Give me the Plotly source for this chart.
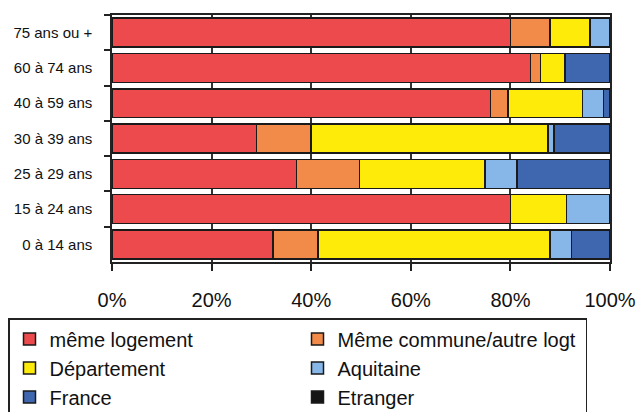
import plotly.graph_objects as go

# Age groups, listed top to bottom
age_groups = ["75 ans ou +", "60 à 74 ans", "40 à 59 ans", "30 à 39 ans",
              "25 à 29 ans", "15 à 24 ans", "0 à 14 ans"]

# Share (%) of each previous place of residence, per age group
meme_logement = [80.0, 84.0, 76.0, 29.0, 37.0, 80.0, 32.3]
meme_commune = [8.0, 2.0, 3.5, 11.0, 12.7, 0.0, 9.1]
departement = [8.0, 5.0, 15.0, 47.5, 25.2, 11.3, 46.6]
aquitaine = [4.0, 0.0, 4.2, 1.3, 6.4, 8.7, 4.3]
france = [0.0, 9.0, 1.3, 11.2, 18.7, 0.0, 7.7]
etranger = [0.0, 0.0, 0.0, 0.0, 0.0, 0.0, 0.0]

x_ticks = [0, 20, 40, 60, 80, 100]
x_tick_labels = ["0%", "20%", "40%", "60%", "80%", "100%"]

series = [
    ("même logement", meme_logement, "#EC4A4C"),
    ("Même commune/autre logt", meme_commune, "#F28B4A"),
    ("Département", departement, "#FFEB0A"),
    ("Aquitaine", aquitaine, "#86B7E8"),
    ("France", france, "#3F67B0"),
    ("Etranger", etranger, "#151515"),
]

fig = go.Figure()
for name, values, color in series:
    fig.add_trace(go.Bar(
        y=age_groups, x=values, name=name, orientation="h",
        marker=dict(color=color, line=dict(color="#1a1a1a", width=1.5)),
    ))

font_family = "Arial, Liberation Sans, sans-serif"

# plot area spans 112..610 px horizontally and 15..262 px vertically
plot_w = 637 - 112 - 27
plot_h = 412 - 15 - 150

fig.update_layout(
    width=637, height=412,
    barmode="stack", bargap=0.18,
    margin=dict(l=112, r=27, t=15, b=150, autoexpand=False),
    paper_bgcolor="white", plot_bgcolor="white",
    font=dict(family=font_family, color="#111111"),
    showlegend=True,
    legend=dict(
        orientation="h", traceorder="normal",
        x=(8 - 112) / plot_w, y=-(318 - 262) / plot_h,
        xanchor="left", yanchor="top",
        entrywidth=243,
        font=dict(size=20, family=font_family, color="#111111"),
        bordercolor="#222222", borderwidth=1.5,
        bgcolor="white",
    ),
    xaxis=dict(
        range=[0, 100], tickvals=x_ticks, ticktext=x_tick_labels,
        ticks="outside", ticklen=7, tickwidth=1.5, tickcolor="#222",
        ticklabelstandoff=12,
        tickfont=dict(size=20, family=font_family, color="#111"),
        showgrid=True, gridcolor="#333333", gridwidth=1.5,
        showline=True, linecolor="#222", linewidth=1.5, mirror=True,
        zeroline=False, fixedrange=True,
    ),
    yaxis=dict(
        autorange="reversed", type="category",
        ticks="outside", tickson="boundaries", ticklen=6,
        tickwidth=1.5, tickcolor="#222",
        ticklabelstandoff=15,
        tickfont=dict(size=15, family=font_family, color="#111"),
        showline=True, linecolor="#222", linewidth=1.5, mirror=True,
        showgrid=False, fixedrange=True,
    ),
)

fig.write_html("out.html")
